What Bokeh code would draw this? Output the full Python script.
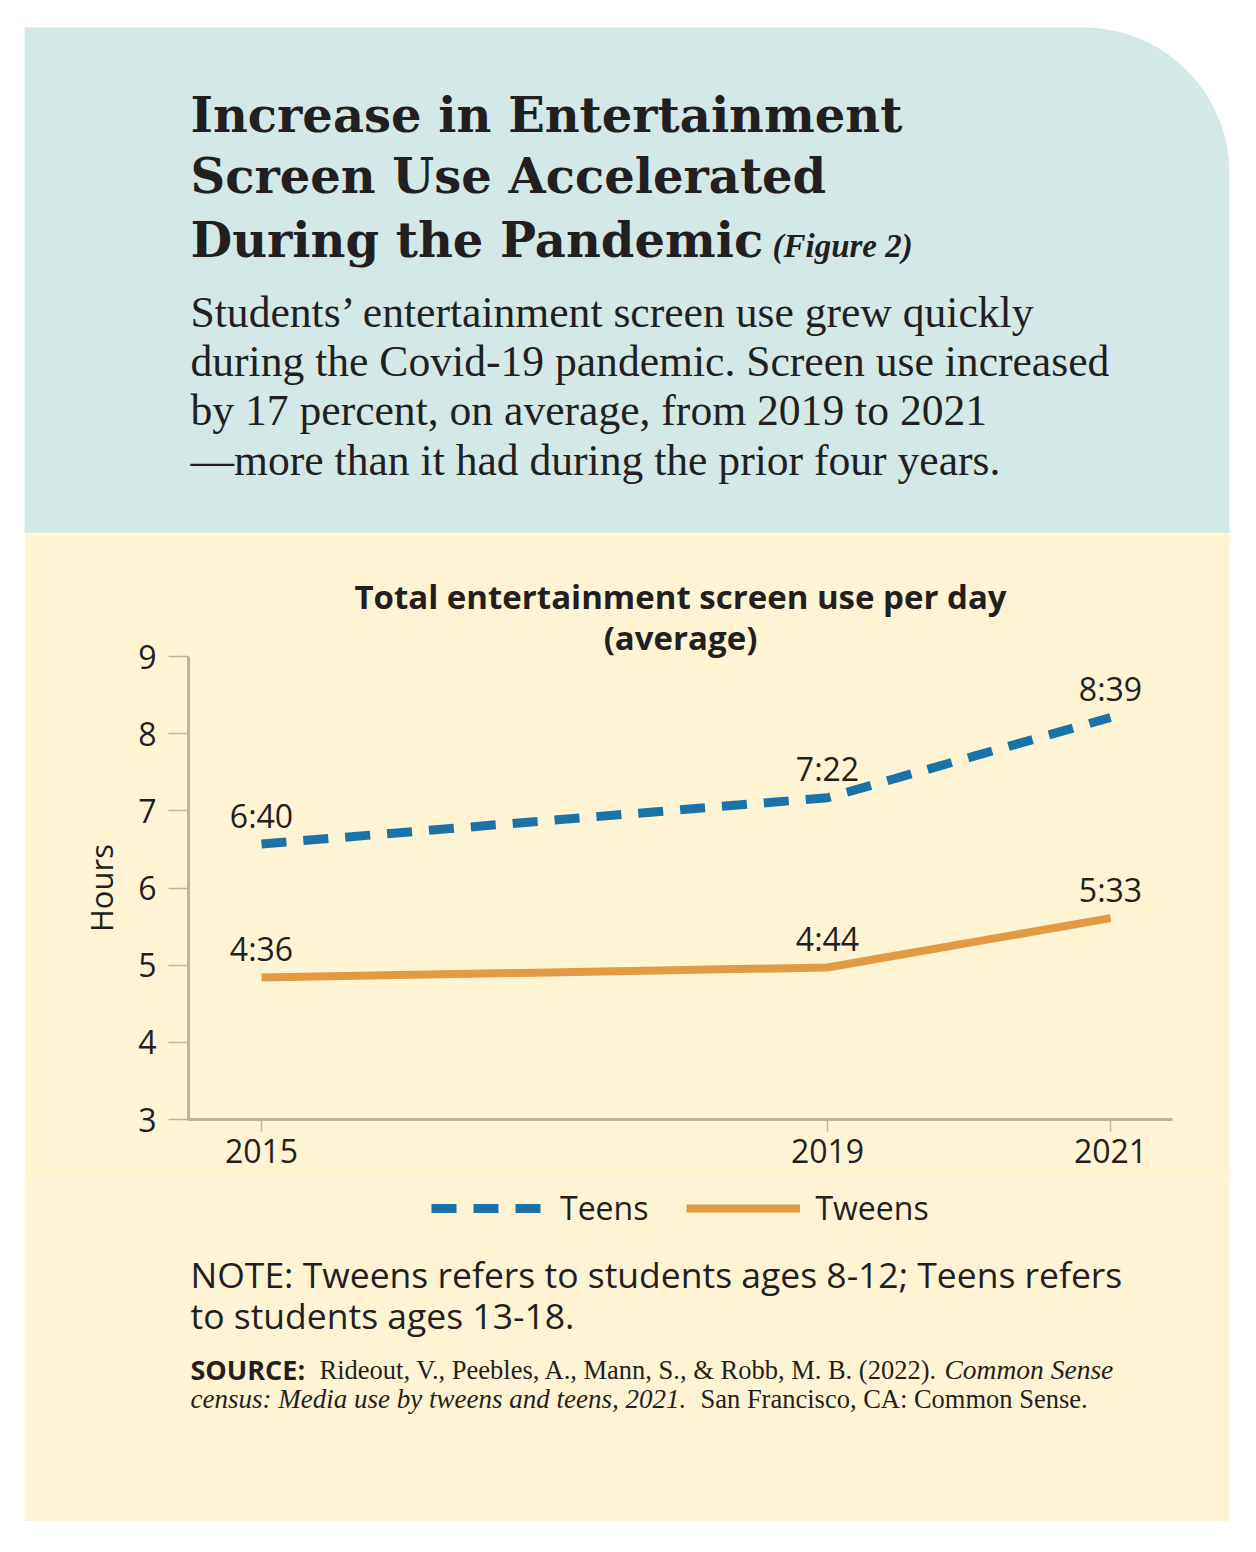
import numpy as np
from bokeh.plotting import figure
from bokeh.models import (Range1d, ColumnDataSource, Legend, LegendItem,
                          FixedTicker, Spacer, Title)
from bokeh.layouts import column, row
from bokeh.embed import file_html
from bokeh.resources import INLINE
from bokeh.core.properties import value

# ---------------- data ----------------
years = [2015, 2019, 2021]
teens_hours = [6.57, 7.17, 8.21]
tweens_hours = [4.84, 4.97, 5.61]
teens_labels = ["6:40", "7:22", "8:39"]
tweens_labels = ["4:36", "4:44", "5:33"]
y_ticks = [3, 4, 5, 6, 7, 8, 9]
series_names = ["Teens", "Tweens"]

title_lines = ["Increase in Entertainment", "Screen Use Accelerated", "During the Pandemic"]
figure_tag = "(Figure 2)"
subtitle_lines = [
    "Students\u2019 entertainment screen use grew quickly",
    "during the Covid-19 pandemic. Screen use increased",
    "by 17 percent, on average, from 2019 to 2021",
    "\u2014more than it had during the prior four years.",
]
chart_title = ["Total entertainment screen use per day", "(average)"]
note_lines = ["NOTE: Tweens refers to students ages 8-12; Teens refers",
              "to students ages 13-18."]

# ---------------- style ----------------
TEAL = "#D4E9E7"
CREAM = "#FEF3D3"
DARK = "#231F20"
BLUE = "#1A73A8"
ORANGE = "#E39A45"
AXC = "#BDB49C"
SANS = "Open Sans"
SERIF = "Liberation Serif"
HSERIF = "DejaVu Serif"
TEENS_DASH = "25 17"

W = 1256
HEAD_H = 533
BODY_W = 1205
CHART_BOTTOM = 1180     # page y where the chart figure ends
PAGE_BOTTOM = 1521

# ---------------- header ----------------
hdr = figure(width=W, height=HEAD_H, x_range=Range1d(0, W), y_range=Range1d(HEAD_H, 0),
             output_backend="svg", toolbar_location=None, min_border=0,
             x_axis_type=None, y_axis_type=None)
hdr.outline_line_color = None
hdr.background_fill_color = "white"
hdr.border_fill_color = "white"
hdr.grid.visible = False

r = 146
cx, cy = 1229 - r, 27 + r
t = np.linspace(-np.pi / 2, 0, 40)
px = [24, 24] + list(cx + r * np.cos(t)) + [1229]
py = [HEAD_H, 27] + list(cy + r * np.sin(t)) + [HEAD_H]
hdr.patch(px, py, fill_color=TEAL, line_color=None)

hdr.text(x=[190, 190, 190], y=[114, 175, 239], text=title_lines,
         text_font=value(HSERIF), text_font_style="bold", text_font_size="48px",
         text_color=DARK, text_baseline="middle")
hdr.text(x=[772], y=[245], text=[figure_tag], text_font=value(SERIF),
         text_font_style="bold italic", text_font_size="33px",
         text_color=DARK, text_baseline="middle")
hdr.text(x=[190] * 4, y=[311, 360, 409, 459], text=subtitle_lines,
         text_font=value(SERIF), text_font_size="43.6px",
         text_color=DARK, text_baseline="middle")

# ---------------- chart ----------------
FRAME_H = 463
chart = figure(frame_width=984, frame_height=FRAME_H,
               x_range=Range1d(2014.484, 2021.438), y_range=Range1d(3, 9),
               output_backend="svg", toolbar_location=None,
               min_border_left=164, min_border_right=57,
               min_border_top=123, min_border_bottom=CHART_BOTTOM - HEAD_H - 123 - FRAME_H)
chart.background_fill_color = CREAM
chart.border_fill_color = CREAM
chart.outline_line_color = None
chart.grid.visible = False

src = ColumnDataSource(dict(x=years, teens=teens_hours, tweens=tweens_hours,
                            tl=teens_labels, wl=tweens_labels))

chart.line("x", "teens", source=src, line_color=BLUE, line_width=9, line_dash=TEENS_DASH)
chart.line("x", "tweens", source=src, line_color=ORANGE, line_width=8)

for col, lab in (("teens", "tl"), ("tweens", "wl")):
    chart.text("x", col, text=lab, source=src, text_align="center",
               text_baseline="middle", y_offset=-29,
               text_font=value(SANS), text_font_size="32px", text_color=DARK)

xa = chart.xaxis[0]
xa.ticker = FixedTicker(ticks=years)
xa.axis_line_color = AXC
xa.axis_line_width = 3
xa.major_tick_line_color = AXC
xa.major_tick_line_width = 1.5
xa.major_tick_out = 12
xa.major_tick_in = 0
xa.minor_tick_line_color = None
xa.major_label_standoff = 7
xa.major_label_text_font = SANS
xa.major_label_text_font_size = "32px"
xa.major_label_text_color = DARK

ya = chart.yaxis[0]
ya.ticker = FixedTicker(ticks=y_ticks)
ya.axis_line_color = AXC
ya.axis_line_width = 3
ya.major_tick_line_color = AXC
ya.major_tick_line_width = 1.5
ya.major_tick_out = 20
ya.major_tick_in = 0
ya.minor_tick_line_color = None
ya.major_label_standoff = 12
ya.major_label_text_font = SANS
ya.major_label_text_font_size = "32px"
ya.major_label_text_color = DARK
ya.axis_label = "Hours"
ya.axis_label_text_font = SANS
ya.axis_label_text_font_style = "normal"
ya.axis_label_text_font_size = "31px"
ya.axis_label_text_color = DARK
ya.axis_label_standoff = 13

# chart titles (closest to the frame first)
chart.add_layout(Title(text=chart_title[1], align="center", offset=5, standoff=-6,
                       text_font=SANS, text_font_size="33px", text_font_style="bold",
                       text_color=DARK), "above")
chart.add_layout(Title(text=chart_title[0], align="center", offset=5, standoff=-7,
                       text_font=SANS, text_font_size="33px", text_font_style="bold",
                       text_color=DARK), "above")

# ---------------- footer (legend, note, source) ----------------
FOOT_H = PAGE_BOTTOM - CHART_BOTTOM
foot = figure(width=BODY_W, height=FOOT_H,
              x_range=Range1d(24, 24 + BODY_W), y_range=Range1d(PAGE_BOTTOM, CHART_BOTTOM),
              output_backend="svg", toolbar_location=None, min_border=0,
              x_axis_type=None, y_axis_type=None)
foot.background_fill_color = CREAM
foot.border_fill_color = CREAM
foot.outline_line_color = None
foot.grid.visible = False

# legend keys: same series and styles as the chart (their points fall outside
# this panel's page-pixel ranges, so only the legend swatches show)
k_teens = foot.line("x", "teens", source=src, line_color=BLUE, line_width=9,
                    line_dash=TEENS_DASH)
k_tweens = foot.line("x", "tweens", source=src, line_color=ORANGE, line_width=8)
legend = Legend(items=[LegendItem(label=series_names[0], renderers=[k_teens]),
                       LegendItem(label=series_names[1], renderers=[k_tweens])],
                orientation="horizontal", location=(407, PAGE_BOTTOM - 1229),
                glyph_width=114, glyph_height=20, label_standoff=15, spacing=38,
                label_text_font=SANS, label_text_font_size="32px",
                label_text_color=DARK, background_fill_alpha=0,
                border_line_color=None, padding=0, margin=0)
foot.add_layout(legend)

foot.text(x=[190, 190], y=[1273, 1314], text=note_lines, text_font=value(SANS),
          text_font_size="35.5px", text_color=DARK, text_baseline="middle")
foot.text(x=[190], y=[1369], text=["SOURCE:"], text_font=value(SANS),
          text_font_style="bold", text_font_size="27px", text_color=DARK,
          text_baseline="middle")
foot.text(x=[319, 700], y=[1369, 1398],
          text=["Rideout, V., Peebles, A., Mann, S., & Robb, M. B. (2022).",
                "San Francisco, CA: Common Sense."],
          text_font=value(SERIF), text_font_size="26.5px", text_color=DARK,
          text_baseline="middle")
foot.text(x=[944], y=[1369], text=["Common Sense"],
          text_font=value(SERIF), text_font_style="italic", text_font_size="27.5px",
          text_color=DARK, text_baseline="middle")
foot.text(x=[190], y=[1398], text=["census: Media use by tweens and teens, 2021."],
          text_font=value(SERIF), text_font_style="italic", text_font_size="27px",
          text_color=DARK, text_baseline="middle")

layout = column(hdr,
                row(Spacer(width=24, height=CHART_BOTTOM - HEAD_H), chart),
                row(Spacer(width=24, height=FOOT_H), foot))
open("out.html", "w").write(file_html(layout, INLINE))
